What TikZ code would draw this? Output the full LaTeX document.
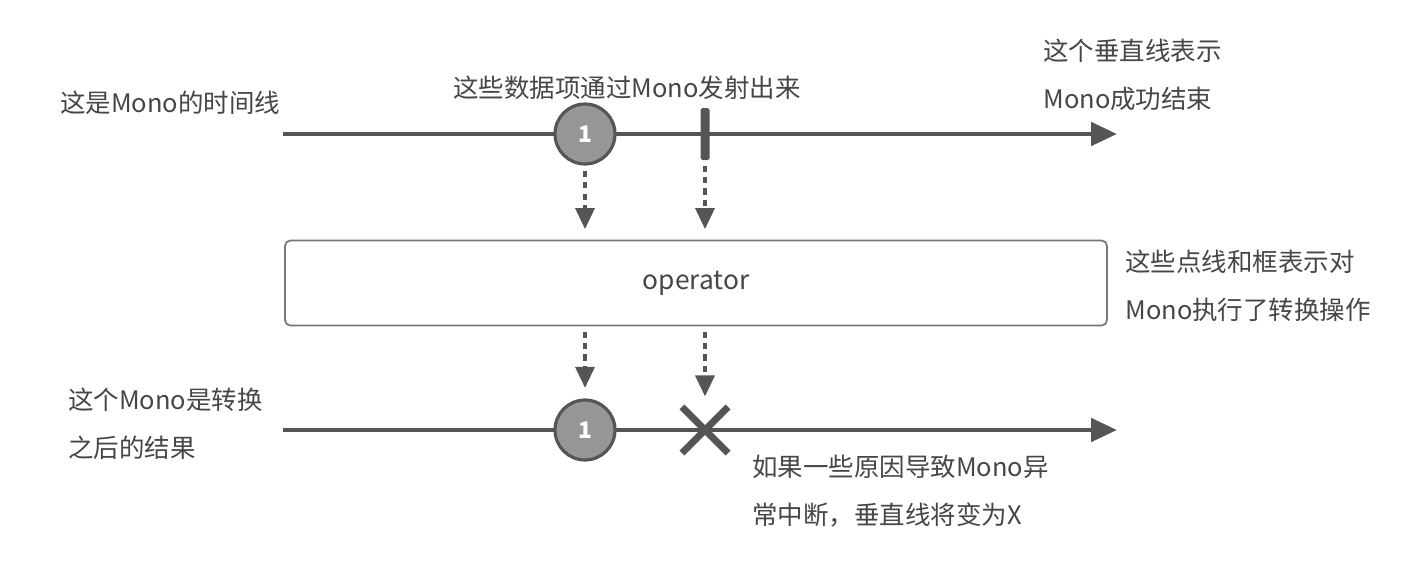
\documentclass[tikz,border=0pt]{standalone}
\usepackage{fontspec}
\setmainfont{Noto Sans CJK SC}
\usepackage{xcolor}
\usetikzlibrary{arrows.meta, positioning, shapes.misc}
\definecolor{linegray}{RGB}{85, 85, 85}
\definecolor{textgray}{RGB}{70, 70, 70}
\definecolor{dotgray}{RGB}{150, 150, 150}
\definecolor{boxgray}{RGB}{120, 120, 120}

\begin{document}
\begin{tikzpicture}[
    x=0.02cm, y=-0.02cm,
    timeline/.style={draw=linegray, line width=2.8pt, -{Triangle[length=0.52cm, width=0.46cm]}},
    item/.style={circle, draw=linegray, line width=1.8pt, fill=dotgray,
                 minimum size=1.2cm, inner sep=0pt, text=white,
                 font=\fontsize{13}{13}\selectfont\bfseries},
    endbar/.style={rectangle, fill=linegray, minimum width=0.18cm,
                   minimum height=1.04cm, inner sep=0pt, rounded corners=1pt},
    errmark/.style={cross out, draw=linegray, line width=4pt,
                    minimum size=0.78cm, inner sep=0pt},
    opbox/.style={rectangle, draw=boxgray, line width=1pt, rounded corners=3pt,
                  minimum width=16.44cm, minimum height=1.7cm,
                  font=\fontsize{15}{15}\selectfont, text=textgray},
    flow/.style={draw=linegray, line width=2pt, dash pattern=on 3.5pt off 3pt,
                 -{Triangle[length=0.42cm, width=0.38cm]}},
    note/.style={align=left, text=textgray, inner sep=0pt,
                 font=\fontsize{14.5}{27.3}\selectfont}
]
\useasboundingbox (0,0) rectangle (1424,562);

%% source Mono
\coordinate (srcstart) at (283,134);
\coordinate (srcend)   at (1117,134);
\draw[timeline] (srcstart) -- (srcend);
\node[item]   (srcitem) at (585,134) {1};
\node[endbar] (srcdone) at (705,134) {};

%% operator
\node[opbox] (op) at (696,283) {operator};

%% result Mono
\coordinate (resstart) at (283,430);
\coordinate (resend)   at (1117,430);
\draw[timeline] (resstart) -- (resend);
\node[item]    (resitem) at (585,430) {1};
\node[errmark] (reserr)  at (705,430) {};

%% dotted transfers
\draw[flow, shorten <=3pt, shorten >=6pt] (srcitem.south) -- (srcitem.south |- op.north);
\draw[flow, shorten <=3pt, shorten >=6pt] (srcdone.south) -- (srcdone.south |- op.north);
\draw[flow, shorten <=3pt, shorten >=6pt] (srcitem.south |- op.south) -- (resitem.north);
\draw[flow, shorten <=3pt, shorten >=6pt] (srcdone.south |- op.south) -- (reserr.north);

%% notes
\node[note, anchor=west] (lbltimeline) at (60,103) {这是Mono的时间线};
\node[note] (lblemit) at (627,88) {这些数据项通过Mono发射出来};
\node[note, anchor=west] (lbldone) at (1043,75) {这个垂直线表示\\Mono成功结束};
\node[note, anchor=west] (lblop) at (1125,286) {这些点线和框表示对\\Mono执行了转换操作};
\node[note, anchor=west] (lblres) at (68,424) {这个Mono是转换\\之后的结果};
\node[note, anchor=west] (lblerr) at (752,491) {如果一些原因导致Mono异\\常中断，垂直线将变为X};

\end{tikzpicture}
\end{document}
